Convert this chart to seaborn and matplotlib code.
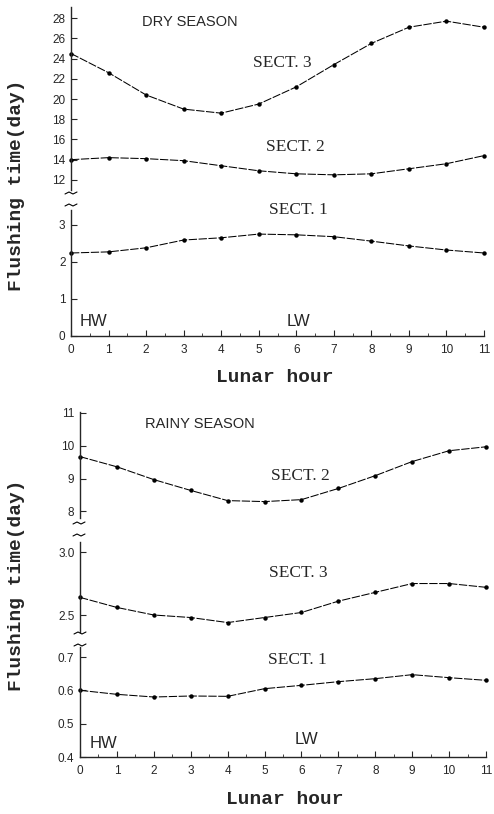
import numpy as np
import pandas as pd
import matplotlib
matplotlib.use("Agg")
import matplotlib.pyplot as plt
from matplotlib.lines import Line2D
from matplotlib.ticker import MultipleLocator, FormatStrFormatter
import seaborn as sns

# ---------------- data ----------------
hours = list(range(12))
hour_labels = [str(h) for h in hours]

dry_sect3 = [24.5, 22.6, 20.4, 19.0, 18.6, 19.5, 21.2, 23.4, 25.5, 27.1, 27.7, 27.1]
dry_sect2 = [14.0, 14.2, 14.1, 13.9, 13.4, 12.9, 12.6, 12.5, 12.6, 13.1, 13.6, 14.4]
dry_sect1 = [2.24, 2.27, 2.38, 2.59, 2.65, 2.75, 2.73, 2.68, 2.56, 2.43, 2.32, 2.24]

rainy_sect2 = [9.67, 9.36, 8.97, 8.64, 8.33, 8.30, 8.36, 8.70, 9.09, 9.52, 9.85, 9.97]
rainy_sect3 = [2.64, 2.56, 2.50, 2.48, 2.44, 2.48, 2.52, 2.61, 2.68, 2.75, 2.75, 2.72]
rainy_sect1 = [0.600, 0.588, 0.580, 0.583, 0.582, 0.605, 0.615, 0.626, 0.635, 0.647, 0.638, 0.630]

dry_upper_ticks = [12, 14, 16, 18, 20, 22, 24, 26, 28]
dry_lower_ticks = [0, 1, 2, 3]
rainy_upper_ticks = [8, 9, 10, 11]
rainy_mid_ticks = [2.5, 3.0]
rainy_lower_ticks = [0.4, 0.5, 0.6, 0.7]

# ---------------- style ----------------
sns.set_style("ticks")
plt.rcParams['font.family'] = ['Liberation Sans', 'DejaVu Sans']
plt.rcParams['axes.linewidth'] = 1.0

W, H = 494, 814
fig = plt.figure(figsize=(W / 100, H / 100), dpi=100)


def add_ax(left, top, right, bottom):
    return fig.add_axes([left / W, 1 - bottom / H, (right - left) / W, (bottom - top) / H])


def style_ax(ax, ylim, yticks, fmt=None, show_x=False):
    ax.set_xlim(0, 11)
    ax.set_ylim(*ylim)
    ax.set_yticks(yticks)
    if fmt:
        ax.yaxis.set_major_formatter(FormatStrFormatter(fmt))
    for s in ['top', 'right']:
        ax.spines[s].set_visible(False)
    ax.tick_params(axis='y', direction='in', length=4, width=0.8, labelsize=8.5, pad=4)
    ax.set_xlabel('')
    ax.set_ylabel('')
    ax.patch.set_alpha(0)
    if show_x:
        ax.set_xticks(hours)
        ax.set_xticklabels(hour_labels)
        ax.xaxis.set_minor_locator(MultipleLocator(0.5))
        ax.tick_params(axis='x', which='major', direction='in', length=4, width=0.8,
                       labelsize=8.5, pad=6)
        ax.tick_params(axis='x', which='minor', direction='in', length=2, width=0.6)
    else:
        ax.spines['bottom'].set_visible(False)
        ax.set_xticks([])


def draw_series(ax, values):
    df = pd.DataFrame({'hour': hours, 'value': values})
    sns.lineplot(data=df, x='hour', y='value', ax=ax, color='black', linewidth=0.75,
                 linestyle=(0, (8, 1.5)), marker='o', markersize=3.2,
                 markeredgewidth=0, legend=False, errorbar=None, clip_on=False)


def brk(x, y):
    fig.add_artist(Line2D([(x - 6) / W, (x - 2) / W, (x + 2) / W, (x + 6) / W],
                          [1 - (y + 1) / H, 1 - (y - 1) / H, 1 - (y + 1) / H, 1 - (y - 1) / H],
                          color='black', linewidth=0.8))


def ftext(x, y, s, **kw):
    fig.text(x / W, 1 - y / H, s, **kw)


serif = dict(family=['Liberation Serif', 'DejaVu Serif'], fontsize=12.5)
sans = dict(family=['Liberation Sans', 'DejaVu Sans'])
mono = dict(family=['Liberation Mono', 'DejaVu Sans Mono'], fontweight='bold', fontsize=14)

# ---------------- dry season ----------------
ax_d_up = add_ax(71, 7, 484, 190)
draw_series(ax_d_up, dry_sect3)
draw_series(ax_d_up, dry_sect2)
style_ax(ax_d_up, (11.0, 29.1), dry_upper_ticks)

ax_d_lo = add_ax(71, 210, 484, 336)
draw_series(ax_d_lo, dry_sect1)
style_ax(ax_d_lo, (0, 3.4), dry_lower_ticks, show_x=True)

brk(71, 193)
brk(71, 205)

ftext(190, 22, "DRY SEASON", ha='center', va='center', fontsize=10.5, **sans)
ftext(282, 63, "SECT. 3", ha='center', va='center', **serif)
ftext(295, 147, "SECT. 2", ha='center', va='center', **serif)
ftext(298, 210, "SECT. 1", ha='center', va='center', **serif)
ftext(93, 322, "HW", ha='center', va='center', fontsize=12, **sans)
ftext(298, 322, "LW", ha='center', va='center', fontsize=12, **sans)
ftext(275, 378, "Lunar hour", ha='center', va='center', **mono)
ftext(17, 185, "Flushing time(day)", ha='center', va='center', rotation=90, **mono)

# ---------------- rainy season ----------------
ax_r_up = add_ax(80, 412, 486, 518)
draw_series(ax_r_up, rainy_sect2)
style_ax(ax_r_up, (7.8, 11.03), rainy_upper_ticks)

ax_r_mid = add_ax(80, 542, 486, 632)
draw_series(ax_r_mid, rainy_sect3)
style_ax(ax_r_mid, (2.365, 3.08), rainy_mid_ticks, fmt='%.1f')

ax_r_lo = add_ax(80, 647, 486, 757)
draw_series(ax_r_lo, rainy_sect1)
style_ax(ax_r_lo, (0.4, 0.73), rainy_lower_ticks, fmt='%.1f', show_x=True)

brk(79, 523)
brk(79, 535)
brk(80, 633)
brk(80, 645)

ftext(200, 424, "RAINY SEASON", ha='center', va='center', fontsize=10.5, **sans)
ftext(300, 476, "SECT. 2", ha='center', va='center', **serif)
ftext(298, 573, "SECT. 3", ha='center', va='center', **serif)
ftext(297, 660, "SECT. 1", ha='center', va='center', **serif)
ftext(103, 744, "HW", ha='center', va='center', fontsize=12, **sans)
ftext(306, 740, "LW", ha='center', va='center', fontsize=12, **sans)
ftext(285, 800, "Lunar hour", ha='center', va='center', **mono)
ftext(17, 585, "Flushing time(day)", ha='center', va='center', rotation=90, **mono)

fig.savefig("out.png", dpi=100, facecolor='white')
